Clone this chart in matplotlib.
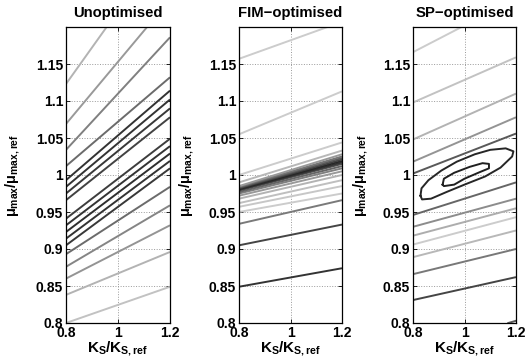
import numpy as np
import matplotlib
matplotlib.use('Agg')
import matplotlib.pyplot as plt

#-----------------------------------------------------------------------------
# data: each contour line given by its value at K=0.8 and K=1.2

x_edges = [0.8, 1.2]

titles = ['Unoptimised', 'FIM\u2212optimised', 'SP\u2212optimised']

unopt_left  = [0.800, 0.838, 0.860, 0.876, 0.893, 0.905, 0.914, 0.923, 0.932, 0.941,
               0.966, 0.975, 0.984, 0.993, 1.012, 1.034, 1.069, 1.123]
unopt_right = [0.849, 0.896, 0.932, 0.959, 0.984, 1.009, 1.019, 1.029, 1.039, 1.049,
               1.078, 1.090, 1.102, 1.114, 1.132, 1.186, 1.237, 1.320]
unopt_gray  = [0.76, 0.70, 0.58, 0.52, 0.42, 0.22, 0.2, 0.18, 0.2, 0.24,
               0.26, 0.22, 0.2, 0.2, 0.42, 0.5, 0.6, 0.7]

fim_left  = [0.849, 0.905, 0.934, 0.950, 0.957, 0.962, 0.968, 0.972, 0.975, 0.977, 0.979,
             0.980, 0.981, 0.982, 0.983, 0.984, 0.985, 0.990, 1.000, 1.055, 1.157]
fim_right = [0.874, 0.933, 0.966, 0.975, 0.985, 0.993, 1.000, 1.005, 1.009, 1.012, 1.015,
             1.017, 1.019, 1.021, 1.023, 1.025, 1.028, 1.033, 1.044, 1.113, 1.207]
fim_gray  = [0.2, 0.27, 0.48, 0.8, 0.78, 0.75, 0.7, 0.6, 0.5, 0.4, 0.3,
             0.2, 0.15, 0.25, 0.35, 0.45, 0.6, 0.72, 0.8, 0.8, 0.8]

sp_left  = [0.831, 0.866, 0.889, 0.906, 0.918, 0.930, 0.946, 1.002, 1.018, 1.048, 1.098, 1.166]
sp_right = [0.862, 0.900, 0.925, 0.943, 0.955, 0.968, 0.990, 1.056, 1.078, 1.110, 1.159, 1.238]
sp_gray  = [0.27, 0.47, 0.72, 0.8, 0.68, 0.55, 0.4, 0.35, 0.58, 0.7, 0.76, 0.8]

sp_corner_x = [1.17, 1.2]
sp_corner_y = [0.800, 0.803]

sp_outer_x = [0.829, 0.833, 0.86, 0.91, 0.97, 1.04, 1.10, 1.16, 1.19, 1.185, 1.14, 1.08, 1.00, 0.93, 0.87, 0.835, 0.829]
sp_outer_y = [0.972, 0.982, 0.993, 1.006, 1.018, 1.028, 1.034, 1.036, 1.032, 1.025, 1.010, 0.998, 0.987, 0.977, 0.968, 0.967, 0.972]
sp_inner_x = [0.915, 0.92, 0.96, 1.02, 1.07, 1.095, 1.095, 1.06, 1.0, 0.96, 0.92, 0.915]
sp_inner_y = [0.987, 0.995, 1.003, 1.011, 1.016, 1.015, 1.009, 1.004, 0.995, 0.987, 0.985, 0.987]

xticks = [0.8, 1.0, 1.2]
xticklabels = ['0.8', '1', '1.2']
yticks = [0.8, 0.85, 0.9, 0.95, 1.0, 1.05, 1.1, 1.15]
yticklabels = ['0.8', '0.85', '0.9', '0.95', '1', '1.05', '1.1', '1.15']

#-----------------------------------------------------------------------------

plt.rcParams['font.family'] = ['Liberation Sans', 'DejaVu Sans']
plt.rcParams['font.weight'] = 'bold'
plt.rcParams['mathtext.fontset'] = 'custom'
plt.rcParams['mathtext.rm'] = 'Liberation Sans:bold'
plt.rcParams['mathtext.it'] = 'Liberation Sans:bold'
plt.rcParams['mathtext.bf'] = 'Liberation Sans:bold'

W, H = 532, 361
fig = plt.figure(figsize=(W/100, H/100), dpi=100)

# axes boxes in pixels: left, right, top, bottom
boxes = [(66, 170, 27, 323), (239, 342, 27, 323), (413, 516, 27, 323)]
axes = []
for (l, r, t, b) in boxes:
    axes.append(fig.add_axes([l/W, 1-b/H, (r-l)/W, (b-t)/H]))

lw = 1.4
for ax, lefts, rights, grays in zip(axes,
                                    [unopt_left, fim_left, sp_left],
                                    [unopt_right, fim_right, sp_right],
                                    [unopt_gray, fim_gray, sp_gray]):
    for yl, yr, g in zip(lefts, rights, grays):
        ax.plot(x_edges, [yl, yr], color=str(g), lw=lw, solid_capstyle='butt')

axes[2].plot(sp_corner_x, sp_corner_y, color='0.35', lw=lw)
axes[2].plot(sp_outer_x, sp_outer_y, color='0.15', lw=lw)
axes[2].plot(sp_inner_x, sp_inner_y, color='0.12', lw=lw)

for ax, title in zip(axes, titles):
    ax.set_xlim(0.8, 1.2)
    ax.set_ylim(0.8, 1.2)
    ax.set_xticks(xticks)
    ax.set_xticklabels(xticklabels)
    ax.set_yticks(yticks)
    ax.set_yticklabels(yticklabels)
    ax.tick_params(direction='in', length=3, width=0.6, labelsize=10, pad=2,
                   top=True, right=True)
    ax.grid(True, linestyle=':', color='0.6', lw=0.7)
    for s in ax.spines.values():
        s.set_linewidth(0.9)
    ax.set_title(title, fontsize=10.7, fontweight='bold', pad=7)
    ax.set_xlabel(r'$K_S/K_{S,ref}$', fontsize=11, labelpad=0)
    ax.set_ylabel(r'$\mu_{max}/\mu_{max,ref}$', fontsize=10.5)
    ax.yaxis.set_label_coords(-0.42, 0.5)

fig.savefig('out.png', dpi=100)
